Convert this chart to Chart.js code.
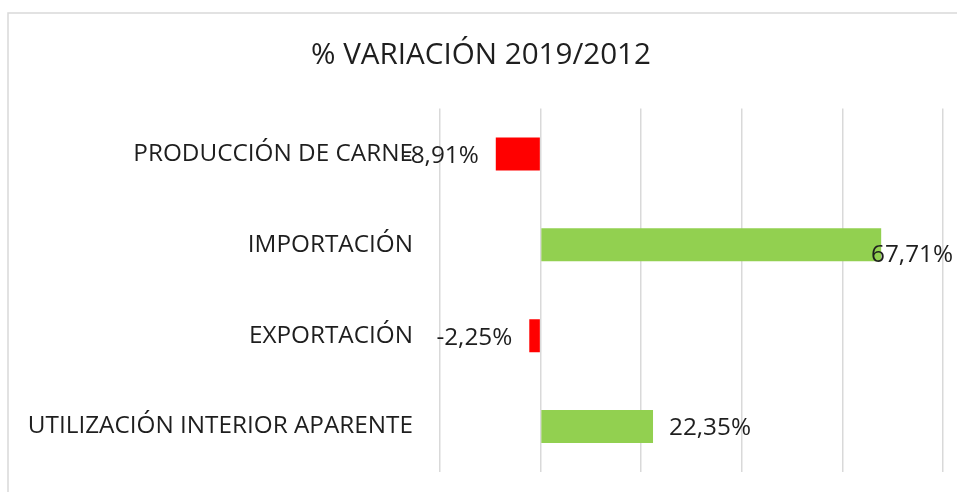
<!DOCTYPE html>
<html>
<head>
<meta charset="utf-8">
<script src="https://cdn.jsdelivr.net/npm/chart.js@4.4.1/dist/chart.umd.min.js"></script>
<style>
    html, body { margin: 0; padding: 0; background: #fff; overflow: hidden; }
    #wrap { position: relative; width: 957px; height: 492px; }
</style>
</head>
<body>
<div id="wrap"><canvas id="variacionChart" width="957" height="492"></canvas></div>
<script>
// datos
const categorias = ['PRODUCCIÓN DE CARNE', 'IMPORTACIÓN', 'EXPORTACIÓN', 'UTILIZACIÓN INTERIOR APARENTE'];
const variacion = [-8.91, 67.71, -2.25, 22.35];
const titulo = '% VARIACIÓN 2019/2012';

const ROJO = '#FF0000';
const VERDE = '#92D050';
const TEXTO = '#1e1e1e';
const FUENTE = "'Open Sans', sans-serif";

// marco gris del área del gráfico (como en Excel)
const marco = {
    id: 'marco',
    beforeDraw(chart) {
        const ctx = chart.ctx;
        ctx.save();
        ctx.strokeStyle = '#d9d9d9';
        ctx.lineWidth = 1.5;
        ctx.strokeRect(8, 13, 2000, 2000);
        ctx.restore();
    }
};

// etiquetas de datos con formato 00,00%
const etiquetas = {
    id: 'etiquetas',
    afterDatasetsDraw(chart) {
        const ctx = chart.ctx;
        const meta = chart.getDatasetMeta(0);
        ctx.save();
        ctx.font = '24.3px ' + FUENTE;
        ctx.fillStyle = TEXTO;
        ctx.textBaseline = 'middle';
        meta.data.forEach((bar, i) => {
            const v = variacion[i];
            const txt = v.toFixed(2).replace('.', ',') + '%';
            const w = ctx.measureText(txt).width;
            let y = bar.y + 2;
            let x;
            if (v < 0) {
                x = bar.x - 17 - w;
            } else {
                x = bar.x + 16;
                if (x + w > chart.width - 4) {
                    x = chart.width - 4 - w;
                    y = bar.y + 10;
                }
            }
            ctx.textAlign = 'left';
            ctx.fillText(txt, x, y);
        });
        ctx.restore();
    }
};

const ctx = document.getElementById('variacionChart');
new Chart(ctx, {
    type: 'bar',
    data: {
        labels: categorias,
        datasets: [{
            label: '% variación',
            data: variacion,
            backgroundColor: variacion.map(v => v < 0 ? ROJO : VERDE),
            borderWidth: 0,
            barPercentage: 0.363,
            categoryPercentage: 1.0
        }]
    },
    options: {
        indexAxis: 'y',
        responsive: false,
        animation: false,
        layout: { padding: { left: 19, right: 14, top: 0, bottom: 20 } },
        scales: {
            x: {
                min: -20,
                max: 80,
                afterFit(scale) { scale.height = 0; },
                ticks: { display: false, stepSize: 20 },
                grid: { color: '#d9d9d9', lineWidth: 1.5, drawTicks: false },
                border: { display: false }
            },
            y: {
                afterFit(scale) {
                    scale.width = 421;
                    scale.paddingTop = 0;
                    scale.paddingBottom = 0;
                },
                ticks: { color: TEXTO, font: { family: FUENTE, size: 24.3 }, padding: 27 },
                grid: { display: false, drawTicks: false },
                border: { display: false }
            }
        },
        plugins: {
            legend: { display: false },
            tooltip: { enabled: false },
            title: {
                display: true,
                text: titulo,
                color: TEXTO,
                font: { family: FUENTE, size: 29.6, weight: 'normal' },
                padding: { top: 38, bottom: 35 }
            }
        }
    },
    plugins: [marco, etiquetas]
});
</script>
</body>
</html>
